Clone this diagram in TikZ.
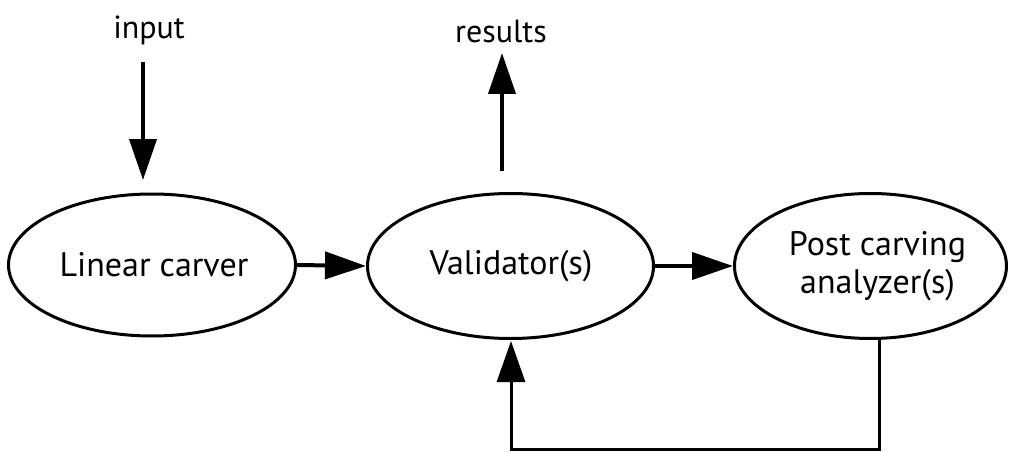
\documentclass[tikz,border=0pt]{standalone}
\usepackage{fontspec}
\setmainfont{PT Sans}
\usetikzlibrary{shapes.geometric,arrows.meta}
\begin{document}
\begin{tikzpicture}[x=1pt,y=-1pt,
  box/.style={draw,ellipse,line width=3pt,inner sep=0pt},
  txt/.style={font=\fontsize{34}{38}\selectfont,align=center,inner sep=0pt},
  arr/.style={line width=4pt,-{Triangle[length=41pt,width=27pt]}},
  fb/.style={line width=3pt,-{Triangle[length=41pt,width=28pt]}},
  lbl/.style={font=\fontsize{32}{36}\selectfont,inner sep=0pt}]
\useasboundingbox (0,0) rectangle (1013,452);
\node[box,minimum width=287pt,minimum height=142pt] (linear) at (152,265) {};
\node[txt] (linearT) at (154,265) {Linear carver};
\node[box,minimum width=286pt,minimum height=145pt] (valid) at (510.5,266) {};
\node[txt] (validT) at (511,266) {Validator(s)};
\node[box,minimum width=272pt,minimum height=145pt] (post) at (870.5,266) {};
\node[txt] (postT) at (877.5,266) {Post carving\\analyzer(s)};
\node[lbl,anchor=base] (input) at (149,39) {input};
\node[lbl,anchor=base] (results) at (501,43) {results};
\coordinate (inS) at (143,62);
\coordinate (inE) at (143,180);
\coordinate (resS) at (502,171);
\coordinate (resE) at (502,53);
\draw[arr] (inS) -- (inE);
\draw[arr] (resS) -- (resE);
\draw[arr] (linear.east) -- (valid.west);
\draw[arr] (valid.east) -- (post.west);
\coordinate (fbA) at (879,338);
\coordinate (fbB) at (879,449);
\coordinate (fbC) at (511,449);
\coordinate (fbD) at (511,341);
\draw[fb] (fbA) -- (fbB) -- (fbC) -- (fbD);
\end{tikzpicture}
\end{document}
